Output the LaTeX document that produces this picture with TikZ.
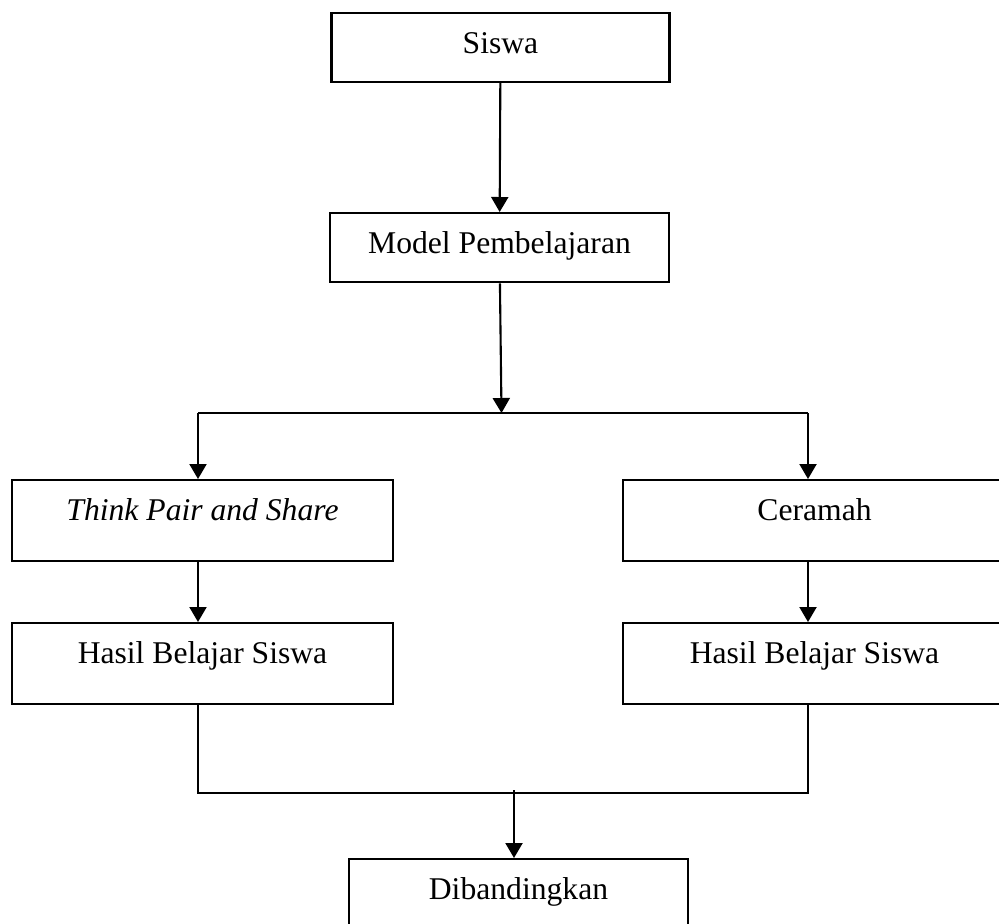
\documentclass[tikz,border=0pt]{standalone}
\usepackage{fontspec}
\setmainfont{Liberation Serif}
\usepackage{tikz}
\usetikzlibrary{arrows.meta,positioning,calc}
\definecolor{FLblack}{RGB}{0,0,0}
\tikzset{
  box/.style={draw=FLblack,line width=1.4pt,fill=white,anchor=north,inner sep=0pt,
              align=center,font=\fontsize{18}{22}\selectfont,text height=0.8cm},
  boxsm/.style={box,text depth=0.57cm},
  boxlg/.style={box,text depth=0.82cm},
  ln/.style={line width=1.2pt,draw=FLblack},
  arr/.style={-{Triangle[length=0.3cm,width=0.34cm]},line width=1.2pt,draw=FLblack}
}

\begin{document}
\begin{tikzpicture}
  \useasboundingbox (0,0) rectangle (19.98,-18.46);
  \node[boxsm,minimum width=6.76cm] (siswa) at (10.01,-0.24) {Siswa};
  \node[boxsm,minimum width=6.78cm,text depth=0.58cm] (model) at (9.99,-4.24) {Model Pembelajaran};
  \node[boxlg,minimum width=7.62cm] (tps) at (4.05,-9.58) {\textit{Think Pair and Share}};
  \node[boxlg,minimum width=7.66cm] (ceramah) at (16.29,-9.58) {Ceramah};
  \node[boxlg,minimum width=7.62cm] (hasilA) at (4.05,-12.44) {Hasil Belajar Siswa};
  \node[boxlg,minimum width=7.66cm] (hasilB) at (16.29,-12.44) {Hasil Belajar Siswa};
  \node[box,minimum width=6.78cm,text depth=0.7cm] (banding) at (10.37,-17.16) {Dibandingkan};
  \coordinate (split) at (10.03,-8.26);
  \coordinate (jl) at (3.96,-8.26);
  \coordinate (jr) at (16.16,-8.26);
  \coordinate (merge) at (10.28,-15.86);
  \draw[arr] (siswa) -- (model);
  \draw[arr] (model) -- (split);
  \draw[ln] (jl) -- (jr);
  \draw[arr] (jl) -- (tps.north -| jl);
  \draw[arr] (jr) -- (ceramah.north -| jr);
  \draw[arr] (tps.south -| jl) -- (hasilA.north -| jl);
  \draw[arr] (ceramah.south -| jr) -- (hasilB.north -| jr);
  \draw[ln] (hasilA.south -| jl) |- (merge) -| (hasilB.south -| jr);
  \draw[arr] ([yshift=0.06cm]merge) -- (banding.north -| merge);
\end{tikzpicture}
\end{document}
